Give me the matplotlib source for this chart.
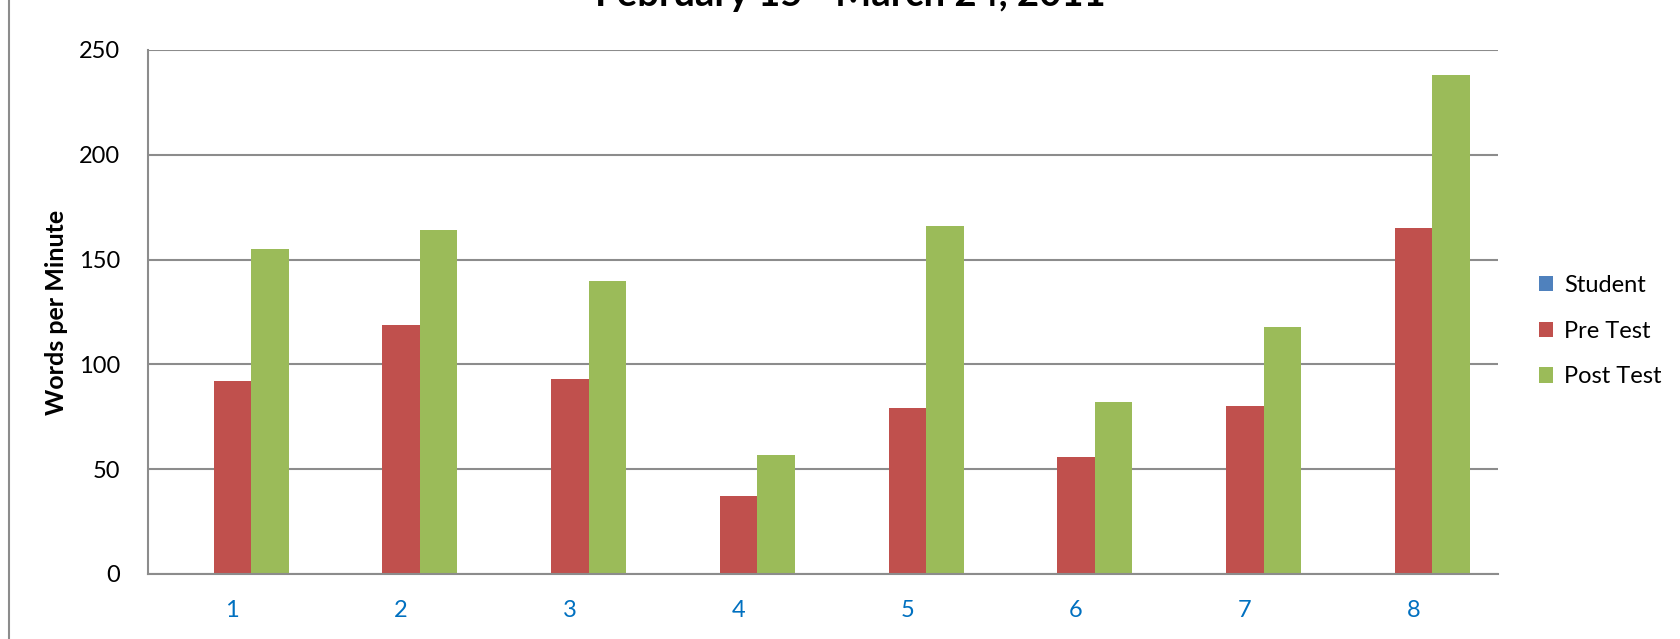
import numpy as np
import matplotlib
matplotlib.use("Agg")
import matplotlib.pyplot as plt
from matplotlib.lines import Line2D

plt.rcParams['font.family'] = ['Lato', 'DejaVu Sans']

students = [1, 2, 3, 4, 5, 6, 7, 8]
student_vals = [0, 0, 0, 0, 0, 0, 0, 0]
pre_test = [92, 119, 93, 37, 79, 56, 80, 165]
post_test = [155, 164, 140, 57, 166, 82, 118, 238]
y_ticks = [0, 50, 100, 150, 200, 250]
title = "February 15 - March 24, 2011"

W, H = 1680, 639
fig = plt.figure(figsize=(W / 100, H / 100), dpi=100)
ax = fig.add_axes([148 / W, 1 - 574 / H, (1498 - 148) / W, (574 - 50) / H])

x = np.arange(len(students))
w = 1 / 4.5
ax.bar(x - w, student_vals, w, color='#4F81BD', label='Student')
ax.bar(x, pre_test, w, color='#C0504D', label='Pre Test')
ax.bar(x + w, post_test, w, color='#9BBB59', label='Post Test')

ax.set_xlim(-0.5, len(students) - 0.5)
ax.set_ylim(0, 250)
ax.set_yticks(y_ticks)
ax.set_xticks(x)
ax.set_xticklabels([str(s) for s in students], color='#0070C0')
ax.tick_params(axis='both', length=0, labelsize=17)
ax.tick_params(axis='x', pad=19)
ax.tick_params(axis='y', pad=20)

ax.yaxis.grid(True, color='#8c8c8c', lw=1.5)
ax.set_axisbelow(True)
for s in ['top', 'right']:
    ax.spines[s].set_visible(False)
for s in ['left', 'bottom']:
    ax.spines[s].set_color('#8c8c8c')
    ax.spines[s].set_linewidth(1.5)

ax.set_ylabel('Words per Minute', fontsize=18, fontweight='bold', labelpad=8)

fig.text(850 / W, 1 - 6 / H, title, ha='center', va='baseline',
         fontsize=27.5, fontweight='bold')

# chart area border on the left
fig.add_artist(Line2D([9 / W, 9 / W], [0, 1], transform=fig.transFigure,
                      color='#8c8c8c', lw=1.5))

ax.legend(loc='center left', bbox_to_anchor=(1527 / W, 1 - 331 / H),
          bbox_transform=fig.transFigure, frameon=False, fontsize=17,
          handlelength=0.62, handleheight=0.62, handletextpad=0.45,
          labelspacing=1.05, borderpad=0)

fig.savefig('out.png', dpi=100)
